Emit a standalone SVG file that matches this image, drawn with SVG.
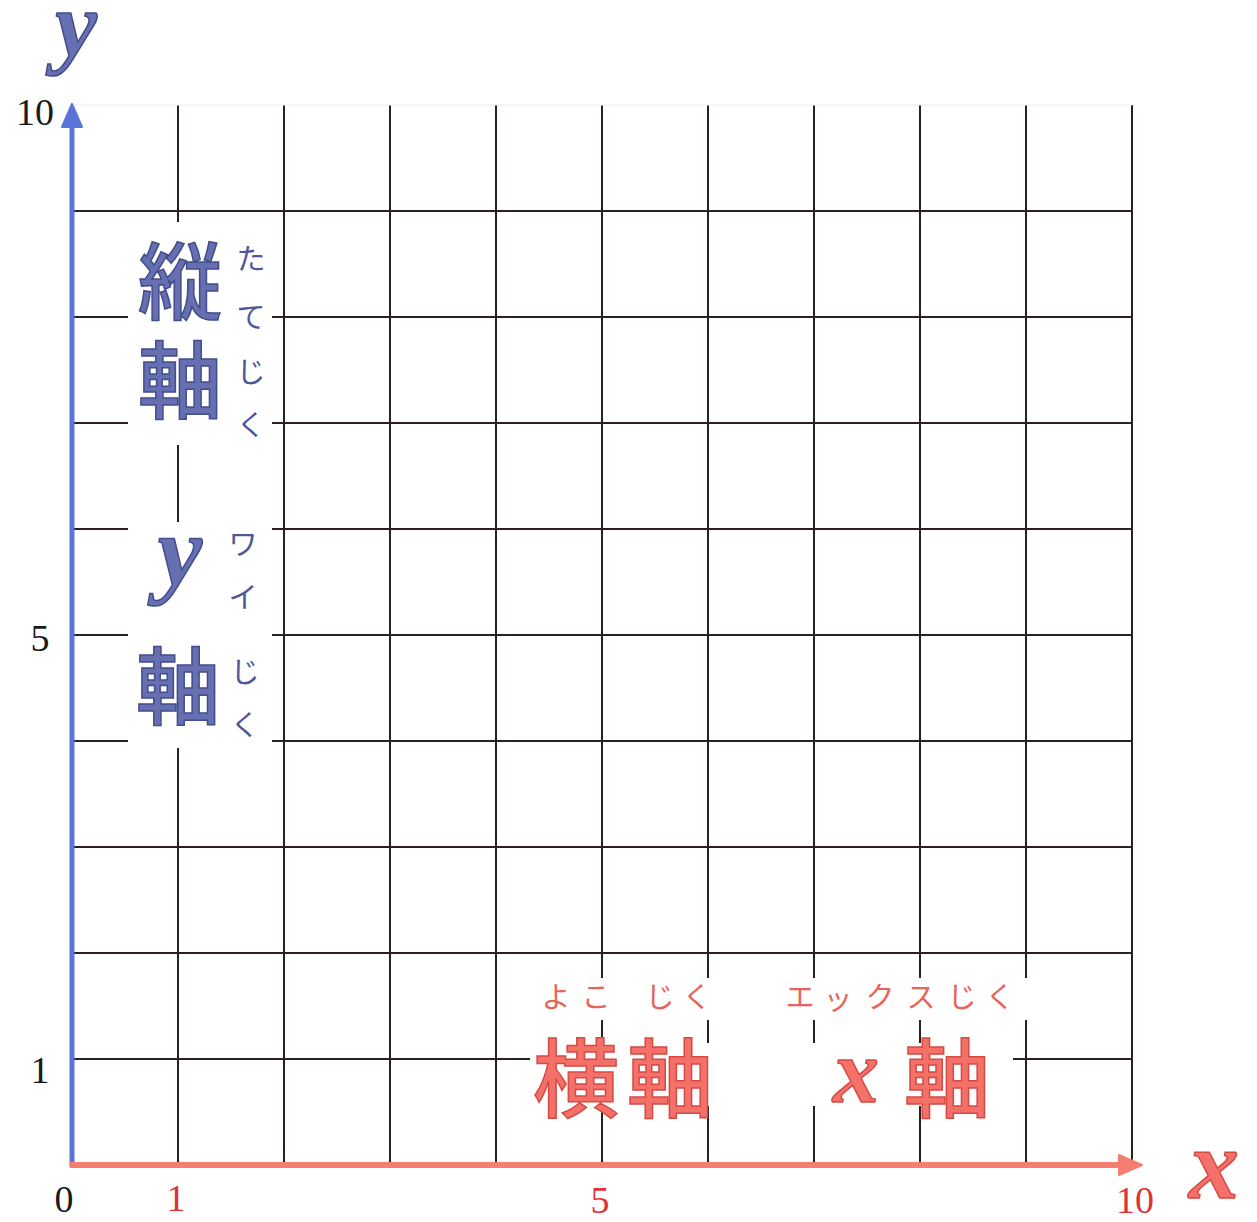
<svg xmlns="http://www.w3.org/2000/svg" width="1257" height="1222" viewBox="0 0 1257 1222">
<style>
.grid line{stroke:#2a2020;stroke-width:2}
.num{font-family:"Liberation Serif",serif;font-size:38px;fill:#1a1a1a;text-anchor:middle}
.rnum{font-family:"Liberation Serif",serif;font-size:38px;fill:#e03038;text-anchor:middle}
.bk{font-family:"Noto Sans CJK JP",sans-serif;font-weight:500;font-size:84px;fill:#6670b0;stroke:#434c8c;stroke-width:1.5;text-anchor:middle}
.bs{font-family:"Noto Sans CJK JP",sans-serif;font-size:29px;fill:#4e5898;text-anchor:middle}
.rk{font-family:"Noto Sans CJK JP",sans-serif;font-weight:500;font-size:86px;fill:#f4716a;stroke:#d64a44;stroke-width:1.5;text-anchor:middle}
.rs{font-family:"Noto Sans CJK JP",sans-serif;font-size:29px;fill:#e8645a;text-anchor:middle}
.scy{font-family:"Liberation Serif",serif;font-style:italic;font-weight:bold;fill:#6670b0;stroke:#434c8c;stroke-width:1.5;text-anchor:middle}
.scx{font-family:"Liberation Serif",serif;font-style:italic;font-weight:bold;fill:#f4716a;stroke:#d64a44;stroke-width:1.5;text-anchor:middle}
.mask{fill:#ffffff}
</style>
<rect width="1257" height="1222" fill="#ffffff"/>
<g id="grid" class="grid">
<line x1="178" y1="105" x2="178" y2="1165"/>
<line x1="284" y1="105" x2="284" y2="1165"/>
<line x1="390" y1="105" x2="390" y2="1165"/>
<line x1="496" y1="105" x2="496" y2="1165"/>
<line x1="602" y1="105" x2="602" y2="1165"/>
<line x1="708" y1="105" x2="708" y2="1165"/>
<line x1="814" y1="105" x2="814" y2="1165"/>
<line x1="920" y1="105" x2="920" y2="1165"/>
<line x1="1026" y1="105" x2="1026" y2="1165"/>
<line x1="1132" y1="105" x2="1132" y2="1165"/>
<line x1="72" y1="1059" x2="1132" y2="1059"/>
<line x1="72" y1="953" x2="1132" y2="953"/>
<line x1="72" y1="847" x2="1132" y2="847"/>
<line x1="72" y1="741" x2="1132" y2="741"/>
<line x1="72" y1="635" x2="1132" y2="635"/>
<line x1="72" y1="529" x2="1132" y2="529"/>
<line x1="72" y1="423" x2="1132" y2="423"/>
<line x1="72" y1="317" x2="1132" y2="317"/>
<line x1="72" y1="211" x2="1132" y2="211"/>
<line x1="72" y1="105" x2="1132" y2="105" style="stroke:#eeeeee;stroke-width:1"/>
</g>
<g id="masks">
<rect class="mask" x="128" y="222" width="144" height="223"/>
<rect class="mask" x="128" y="522" width="144" height="226"/>
<rect class="mask" x="530" y="978" width="500" height="42"/>
<rect class="mask" x="530" y="1043" width="483" height="63"/>
</g>
<g id="axes">
<line x1="72" y1="1167" x2="72" y2="124" stroke="#5b74d8" stroke-width="5"/>
<polygon points="72,104 62,127 82,127" fill="#5b74d8" stroke="#5b74d8" stroke-width="2" stroke-linejoin="round"/>
<line x1="70" y1="1165" x2="1122" y2="1165" stroke="#f47f70" stroke-width="6"/>
<polygon points="1142,1165 1119,1155 1119,1175" fill="#f47f70" stroke="#f47f70" stroke-width="2" stroke-linejoin="round"/>
</g>
<g id="y-title"><text class="scy" x="76" y="56" font-size="94">y</text></g>
<g id="x-title"><text class="scx" x="1214" y="1198" font-size="100">x</text></g>
<g id="y-ticks">
<text class="num" x="35" y="125">10</text>
<text class="num" x="40" y="651">5</text>
<text class="num" x="40" y="1083">1</text>
<text class="num" x="64" y="1212">0</text>
</g>
<g id="x-ticks">
<text class="rnum" x="176" y="1211">1</text>
<text class="rnum" x="600" y="1213">5</text>
<text class="rnum" x="1135" y="1213">10</text>
</g>
<g id="tate-label">
<text class="bk" x="180" y="313">縦</text>
<text class="bk" x="180" y="412">軸</text>
<text class="bs" x="251" y="270">た</text>
<text class="bs" x="251" y="328">て</text>
<text class="bs" x="251" y="383">じ</text>
<text class="bs" x="251" y="436">く</text>
</g>
<g id="y-axis-label">
<text class="scy" x="180" y="585" font-size="100">y</text>
<text class="bk" x="178" y="718">軸</text>
<text class="bs" x="243" y="555">ワ</text>
<text class="bs" x="243" y="608">イ</text>
<text class="bs" x="245" y="683">じ</text>
<text class="bs" x="245" y="736">く</text>
</g>
<g id="yoko-label">
<text class="rs" x="556" y="1008">よ</text>
<text class="rs" x="596" y="1008">こ</text>
<text class="rs" x="660" y="1008">じ</text>
<text class="rs" x="697" y="1008">く</text>
<text class="rk" x="576" y="1111">横</text>
<text class="rk" x="670" y="1111">軸</text>
</g>
<g id="x-axis-label">
<text class="rs" x="800" y="1008">エ</text>
<text class="rs" x="838" y="1010">ッ</text>
<text class="rs" x="880" y="1008">ク</text>
<text class="rs" x="921" y="1008">ス</text>
<text class="rs" x="962" y="1008">じ</text>
<text class="rs" x="1000" y="1008">く</text>
<text class="scx" x="856" y="1102" font-size="92">x</text>
<text class="rk" x="947" y="1111">軸</text>
</g>
</svg>
